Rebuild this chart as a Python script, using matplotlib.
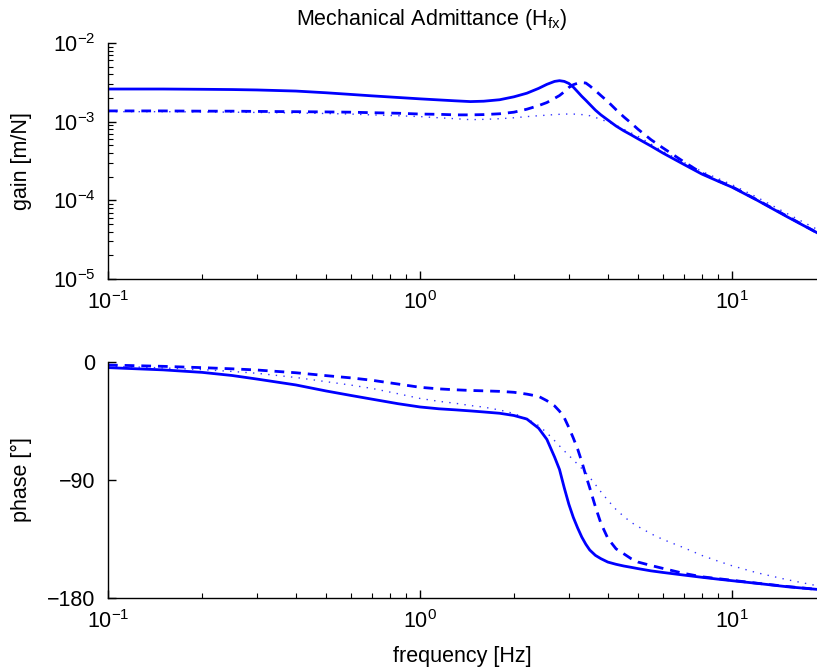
import matplotlib
matplotlib.use("Agg")
import matplotlib.pyplot as plt
from matplotlib.ticker import LogLocator, NullFormatter

plt.rcParams['font.family'] = ['Liberation Sans', 'DejaVu Sans']
plt.rcParams['mathtext.fontset'] = 'custom'
plt.rcParams['mathtext.rm'] = 'Liberation Sans'
plt.rcParams['mathtext.it'] = 'Liberation Sans:italic'
plt.rcParams['font.size'] = 15.5

# frequency points [Hz]
freq = [0.1, 0.15, 0.2, 0.25, 0.3, 0.4, 0.5, 0.6, 0.7, 0.85, 1.0, 1.15, 1.3, 1.45, 1.6,
        1.8, 2.0, 2.2, 2.4, 2.55, 2.7, 2.8, 2.9, 3.0, 3.1, 3.2, 3.3, 3.4, 3.5, 3.65,
        3.8, 4.0, 4.25, 4.5, 4.75, 5.0, 5.5, 6, 7, 8, 9, 10, 12, 15, 18.7]

# gain [m/N] (values x 1e-3)
gain_solid = [2.60, 2.60, 2.58, 2.56, 2.53, 2.45, 2.33, 2.22, 2.13, 2.03, 1.95, 1.89, 1.84, 1.80, 1.82,
              1.90, 2.07, 2.30, 2.65, 2.98, 3.25, 3.32, 3.25, 3.06, 2.75, 2.40, 2.10, 1.87, 1.66, 1.40,
              1.22, 1.05, 0.88, 0.765, 0.68, 0.605, 0.49, 0.40, 0.287, 0.216, 0.176, 0.147, 0.101, 0.062, 0.0389]
gain_dashed = [1.37, 1.37, 1.36, 1.36, 1.35, 1.34, 1.33, 1.32, 1.30, 1.28, 1.25, 1.24, 1.22, 1.22, 1.23,
               1.26, 1.32, 1.44, 1.60, 1.75, 1.98, 2.15, 2.40, 2.72, 2.95, 3.08, 3.13, 3.10, 2.85, 2.48,
               2.15, 1.80, 1.42, 1.15, 0.96, 0.80, 0.59, 0.465, 0.31, 0.222, 0.178, 0.149, 0.102, 0.063, 0.039]
gain_dotted = [1.34, 1.34, 1.33, 1.32, 1.31, 1.29, 1.27, 1.25, 1.22, 1.19, 1.16, 1.12, 1.09, 1.06, 1.07,
               1.09, 1.12, 1.16, 1.19, 1.21, 1.23, 1.24, 1.25, 1.25, 1.25, 1.24, 1.23, 1.22, 1.19, 1.13,
               1.07, 0.99, 0.90, 0.80, 0.72, 0.65, 0.52, 0.42, 0.305, 0.233, 0.19, 0.158, 0.11, 0.068, 0.043]

# phase [deg]
phase_solid = [-4.3, -6.0, -7.9, -10.3, -13, -17.5, -22.1, -25.5, -28.3, -31.8, -34.3, -35.7, -36.5, -37.3, -38.1,
               -39.1, -40.8, -43.5, -50.5, -59, -72.5, -82, -96, -108.5, -118.5, -126.5, -133.5, -139, -143.4, -147.5,
               -150, -152.6, -154.3, -155.6, -156.6, -157.6, -159.3, -160.5, -162.5, -164.2, -165.6, -166.8, -168.8, -171.4, -173.4]
phase_dashed = [-2.3, -3.3, -4.3, -5.2, -6.1, -8.2, -10.4, -12.1, -13.9, -16.8, -19.3, -20.5, -21.2, -21.7, -22.0,
                -22.4, -23.1, -24.5, -26.2, -29.5, -33.5, -37.5, -42.5, -50, -58, -66.3, -76, -86.5, -96, -110.5,
                -123, -134.5, -142.5, -146.3, -150, -152.6, -155.2, -157.4, -161.2, -163.8, -165.2, -166.5, -168.7, -171.2, -173.4]
phase_dotted = [-3.1, -4.5, -5.8, -7.2, -8.6, -11.8, -15, -17.6, -20.1, -24.2, -27.8, -30, -31.5, -33.2, -34.4,
                -36.6, -39.3, -43.2, -48.5, -54, -60, -64, -67.8, -71.3, -74.6, -78, -81.2, -84.5, -88, -93.5,
                -99, -105.5, -112.5, -117.8, -122.3, -125.5, -131, -135.3, -141.6, -147.5, -151.8, -155.4, -160.7, -166, -170.6]

blue = '#0000ff'
styles = [dict(color=blue, lw=2.0, ls='-'),
          dict(color=blue, lw=2.0, ls=(0, (3.5, 2.5))),
          dict(color=blue, lw=1.0, ls=(0, (1, 4.5)), alpha=0.8)]

fig = plt.figure(figsize=(8.17, 6.71), dpi=100)
ax1 = fig.add_axes([108 / 817, 1 - 279 / 671, 709 / 817, 236 / 671])
ax2 = fig.add_axes([108 / 817, 1 - 598 / 671, 709 / 817, 236 / 671])

for g, st in zip([gain_solid, gain_dashed, gain_dotted], styles):
    ax1.plot(freq, [v * 1e-3 for v in g], **st)
for p, st in zip([phase_solid, phase_dashed, phase_dotted], styles):
    ax2.plot(freq, p, **st)

xmax = 10 ** (1 + 85 / 312)
for ax in (ax1, ax2):
    ax.set_xscale('log')
    ax.set_xlim(0.1, xmax)
    ax.spines['top'].set_visible(False)
    ax.spines['right'].set_visible(False)
    for s in ('left', 'bottom'):
        ax.spines[s].set_linewidth(1.0)
    ax.xaxis.set_minor_locator(LogLocator(base=10, subs=range(2, 10)))
    ax.xaxis.set_minor_formatter(NullFormatter())
    ax.tick_params(which='major', direction='in', length=6, width=1.0, pad=9)
    ax.tick_params(which='minor', direction='in', length=3.5, width=0.8)

ax1.set_yscale('log')
ax1.set_ylim(1e-5, 1e-2)
ax1.set_yticks([1e-5, 1e-4, 1e-3, 1e-2])
ax1.yaxis.set_minor_locator(LogLocator(base=10, subs=range(2, 10)))
ax1.yaxis.set_minor_formatter(NullFormatter())
ax1.set_ylabel('gain [m/N]')

ax2.set_ylim(-180, 0)
ax2.set_yticks([-180, -90, 0])
ax2.set_ylabel('phase [°]')
ax2.set_xlabel('frequency [Hz]', labelpad=9)

# both y labels sit on the same vertical line, as in the original
for ax in (ax1, ax2):
    ax.yaxis.set_label_coords((32 - 108) / 709, 0.5)

fig.text(432 / 817, 1 - 20 / 671, 'Mechanical Admittance (H$_{\\mathregular{fx}}$)',
         ha='center', va='center', fontsize=15.5)

fig.savefig('out.png', dpi=100)
